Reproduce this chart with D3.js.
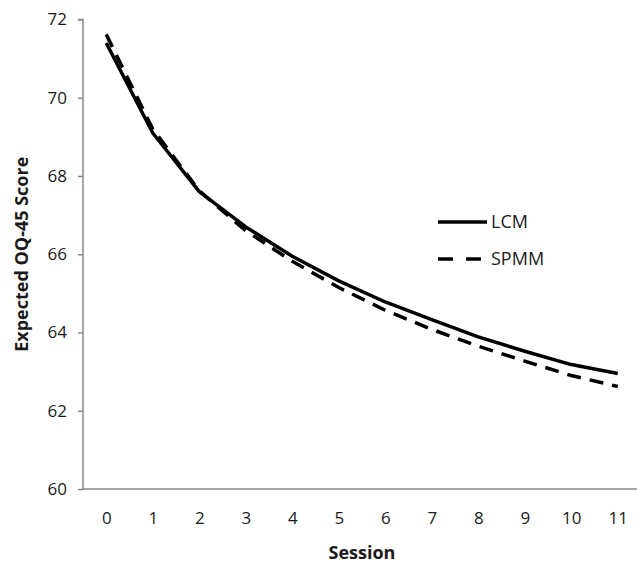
<!DOCTYPE html>
<html>
<head>
<meta charset="utf-8">
<script src="https://cdn.jsdelivr.net/npm/d3@7"></script>
<style>
  body { margin: 0; background: #fff; }
  text { font-family: "Open Sans", "Liberation Sans", sans-serif; fill: #1a1a1a; }
</style>
</head>
<body>
<script>
// values
const sessions = [0, 1, 2, 3, 4, 5, 6, 7, 8, 9, 10, 11];
const lcmScores = [71.4, 69.1, 67.6, 66.7, 65.95, 65.32, 64.78, 64.33, 63.89, 63.52, 63.18, 62.95];
const spmmScores = [71.62, 69.2, 67.62, 66.6, 65.82, 65.15, 64.57, 64.08, 63.65, 63.27, 62.9, 62.62];
const yTicks = [60, 62, 64, 66, 68, 70, 72];
const seriesNames = ["LCM", "SPMM"];

const width = 637, height = 565;
const plot = {left: 83, right: 641, top: 19.5, bottom: 489};

const svg = d3.select("body").append("svg")
    .attr("width", width)
    .attr("height", height);

const x = d3.scalePoint()
    .domain(sessions)
    .range([plot.left, plot.right])
    .padding(0.5);

const y = d3.scaleLinear()
    .domain([60, 72])
    .range([plot.bottom, plot.top]);

const axisColor = "#888";

// y axis
const yAxis = svg.append("g")
    .attr("transform", `translate(${plot.left},0)`)
    .call(d3.axisLeft(y).tickValues(yTicks).tickSize(5).tickPadding(11));
yAxis.select(".domain").attr("stroke", axisColor).attr("stroke-width", 1.5)
    .attr("d", `M-5,${plot.top}H0V${plot.bottom}`);
yAxis.selectAll(".tick line").attr("stroke", axisColor).attr("stroke-width", 1.5);
yAxis.selectAll(".tick text")
    .attr("font-size", 17)
    .attr("font-family", null)
    .attr("fill", "#1a1a1a");

// x axis (no tick marks)
const xAxis = svg.append("g")
    .attr("transform", `translate(0,${plot.bottom})`)
    .call(d3.axisBottom(x).tickSize(0).tickPadding(23));
xAxis.select(".domain").attr("stroke", axisColor).attr("stroke-width", 1.5)
    .attr("d", `M${plot.left},0H${plot.right}`);
xAxis.selectAll(".tick text")
    .attr("font-size", 17)
    .attr("font-family", null)
    .attr("fill", "#1a1a1a");

// axis titles
svg.append("text")
    .text("Session")
    .attr("x", (plot.left + plot.right) / 2)
    .attr("y", 559)
    .attr("text-anchor", "middle")
    .attr("font-size", 18)
    .attr("font-weight", "bold");

svg.append("text")
    .text("Expected OQ-45 Score")
    .attr("transform", `translate(28,${(plot.top + plot.bottom) / 2}) rotate(-90)`)
    .attr("text-anchor", "middle")
    .attr("font-size", 18)
    .attr("font-weight", "bold");

// lines
const line = d3.line()
    .x((d, i) => x(sessions[i]))
    .y(d => y(d));

const styles = {
    LCM: {dash: null},
    SPMM: {dash: "14,9"},
};

[lcmScores, spmmScores].forEach((values, i) => {
    svg.append("path")
        .datum(values)
        .attr("d", line)
        .attr("fill", "none")
        .attr("stroke", "#000")
        .attr("stroke-width", 3.5)
        .attr("stroke-linejoin", "round")
        .attr("stroke-dasharray", styles[seriesNames[i]].dash);
});

// legend
const legend = svg.append("g").attr("transform", "translate(438,222)");
seriesNames.forEach((name, i) => {
    const row = legend.append("g").attr("transform", `translate(0,${i * 37})`);
    row.append("line")
        .attr("x1", 0).attr("x2", 49)
        .attr("y1", 0).attr("y2", 0)
        .attr("stroke", "#000")
        .attr("stroke-width", 3.5)
        .attr("stroke-dasharray", styles[name].dash ? "15,13" : null);
    row.append("text")
        .text(name)
        .attr("x", 53)
        .attr("y", 0)
        .attr("dy", "0.35em")
        .attr("font-size", 18);
});
</script>
</body>
</html>
